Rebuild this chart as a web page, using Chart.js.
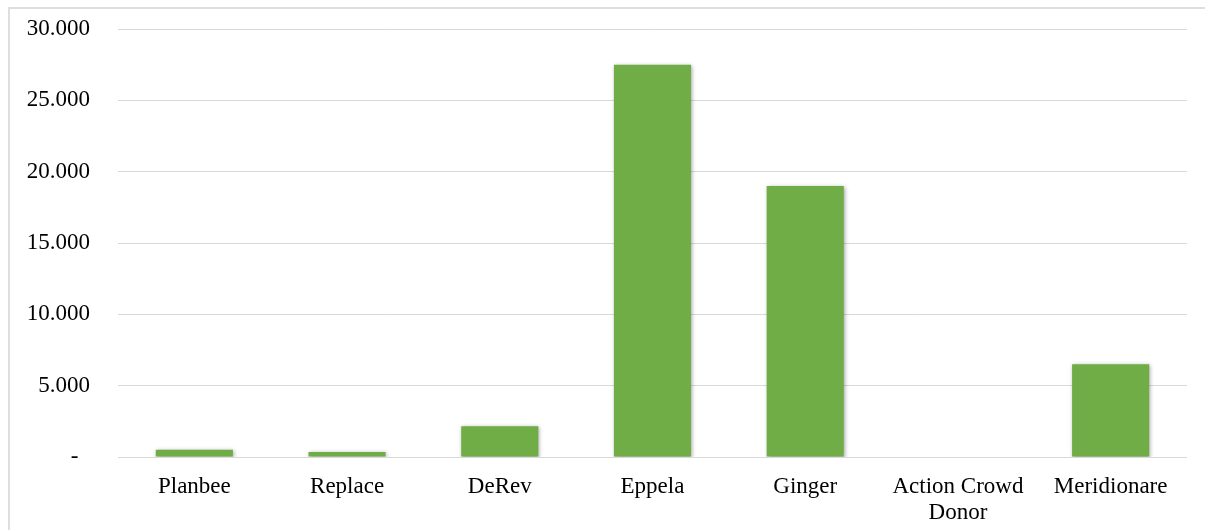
<!DOCTYPE html>
<html>
  <head>
    <meta charset="utf-8">
    <title>Crowdfunding</title>
    <style>
      html, body {
        margin: 0;
        padding: 0;
        background: white;
        overflow: hidden;
      }
      #frame {
        position: absolute;
        left: 8px;
        top: 7px;
        width: 1210px;
        height: 540px;
        border: 2px solid #dedede;
        box-sizing: border-box;
      }
      #chartContainer {
        position: absolute;
        left: 0;
        top: 0;
        width: 1205px;
        height: 530px;
      }
    </style>
    <script src="https://cdn.jsdelivr.net/npm/chart.js@4"></script>
  </head>
  <body>
    <div id="frame"></div>
    <div id="chartContainer">
      <canvas id="myChart"></canvas>
    </div>
    <script>
// Categories and values
const categories = ['Planbee', 'Replace', 'DeRev', 'Eppela', 'Ginger', ['Action Crowd', 'Donor'], 'Meridionare'];
const amounts = [500, 350, 2150, 27500, 19000, 0, 6500];
const yTickLabels = ['-\u00a0\u00a0', '5.000', '10.000', '15.000', '20.000', '25.000', '30.000'];

// soft shadow under the bars, like the office chart
const barShadow = {
  id: 'barShadow',
  beforeDatasetDraw(chart) {
    const ctx = chart.ctx;
    ctx.save();
    ctx.shadowColor = 'rgba(0, 0, 0, 0.35)';
    ctx.shadowBlur = 4;
    ctx.shadowOffsetX = 1;
    ctx.shadowOffsetY = 1;
  },
  afterDatasetDraw(chart) {
    chart.ctx.restore();
  }
};

const font = { family: '"Liberation Serif", "Times New Roman", serif', size: 23, lineHeight: 1.12 };

var ctx = document.getElementById('myChart').getContext('2d');
var myChart = new Chart(ctx, {
  type: 'bar',
  data: {
    labels: categories,
    datasets: [{
      data: amounts,
      backgroundColor: '#70AD47',
      borderWidth: 0,
      barPercentage: 0.505,
      categoryPercentage: 1
    }]
  },
  plugins: [barShadow],
  options: {
    responsive: true,
    maintainAspectRatio: false,
    animation: false,
    layout: {
      padding: { left: 0, right: 18, top: 29, bottom: 0 }
    },
    plugins: {
      legend: { display: false },
      tooltip: { enabled: false }
    },
    scales: {
      x: {
        grid: { display: false },
        border: { display: false },
        ticks: {
          color: 'black',
          font: font,
          padding: 9,
          maxRotation: 0,
          autoSkip: false
        },
        afterFit: function(scale) {
          scale.height = 73;
          scale.paddingLeft = 0;
          scale.paddingRight = 0;
        }
      },
      y: {
        min: 0,
        max: 30000,
        grid: { color: '#d9d9d9', lineWidth: 1, drawTicks: false },
        border: { display: false },
        ticks: {
          stepSize: 5000,
          color: 'black',
          font: font,
          padding: 28,
          callback: function(value, index) { return yTickLabels[index]; }
        },
        afterFit: function(scale) {
          scale.width = 118;
          scale.paddingTop = 0;
          scale.paddingBottom = 0;
        }
      }
    }
  }
});
    </script>
  </body>
</html>
